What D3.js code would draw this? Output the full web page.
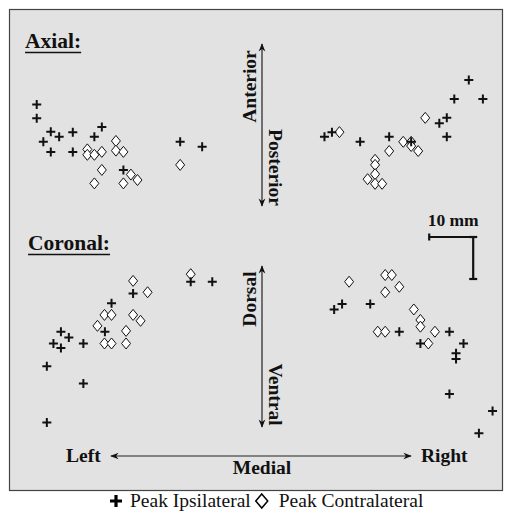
<!DOCTYPE html>
<html>
<head>
<meta charset="utf-8">
<script src="https://cdn.jsdelivr.net/npm/d3@7"></script>
<style>
  body { margin: 0; background: #fff; }
  svg { display: block; }
  text { font-family: "Liberation Serif", "Times New Roman", serif; fill: #111; }
</style>
</head>
<body>
<svg width="511" height="517"></svg>
<script>
// peak positions, mm from midline (x: +right, y: +anterior / +dorsal)
var axialIpsi = [
  [-51.2, 4.9], [-51.2, 1.6], [-48.0, -1.6], [-46.1, -2.8], [-49.7, -4.0], [-48.0, -6.4],
  [-43.0, -1.7], [-43.0, -6.4], [-36.4, -0.5], [-38.1, -2.8], [-31.5, -10.7], [-18.6, -4.0], [-13.6, -5.2],
  [14.2, -2.8], [15.9, -1.7], [22.3, -4.0], [28.9, -2.8], [33.9, -4.0], [40.3, 0.4],
  [42.0, 1.7], [42.0, -2.8], [43.7, 6.2], [47.0, 10.7], [50.2, 6.2]
];
var axialContra = [
  [-39.7, -5.8], [-39.7, -7.1], [-38.1, -7.1], [-36.4, -6.4], [-33.2, -3.8], [-33.2, -6.1],
  [-31.5, -6.4], [-36.4, -10.7], [-38.1, -13.9], [-31.5, -13.9], [-29.8, -11.8], [-28.3, -13.1], [-18.6, -9.5],
  [17.6, -1.7], [28.9, -6.2], [32.1, -4.0], [33.9, -4.0], [33.9, -5.0], [35.5, -6.2], [37.1, 1.7],
  [25.7, -8.3], [25.7, -9.5], [25.7, -11.7], [24.0, -12.9], [25.7, -14.0], [27.3, -14.0]
];
var coronalIpsi = [
  [-45.7, 3.4], [-43.9, 2.0], [-47.4, 0.6], [-45.7, -0.5], [-40.6, 0.6], [-48.9, -4.8],
  [-40.6, -8.9], [-48.9, -18.2], [-35.7, 3.4], [-34.2, 10.2], [-29.3, 12.5], [-16.2, 15.3], [-11.3, 15.3],
  [16.4, 8.7], [18.2, 10.0], [24.6, 10.0], [31.2, 3.4], [36.0, 0.6], [42.6, 3.4],
  [45.8, 0.6], [44.1, -1.7], [44.1, -3.1], [42.6, -11.4], [52.4, -15.5], [49.3, -20.8]
];
var coronalContra = [
  [-37.4, 4.8], [-35.8, 7.4], [-34.2, 7.4], [-35.8, 0.6], [-34.2, 0.6], [-30.9, 3.6],
  [-30.9, 0.6], [-29.3, 7.4], [-27.6, 6.0], [-29.3, 15.5], [-26.0, 12.8], [-16.2, 17.1],
  [19.8, 15.3], [28.0, 16.9], [29.5, 16.9], [31.2, 14.1], [28.0, 12.8], [34.5, 8.7],
  [36.0, 6.2], [36.0, 4.6], [39.3, 3.4], [26.3, 3.4], [28.0, 3.4], [37.8, 0.6]
];
var scaleBarMm = 10;
var legendLabels = ["Peak Ipsilateral", "Peak Contralateral"];

var svg = d3.select("svg");

// panel background
svg.append("rect")
  .attr("x", 9.5).attr("y", 9.5)
  .attr("width", 493).attr("height", 481)
  .attr("fill", "#e2e2e2")
  .attr("stroke", "#444").attr("stroke-width", 1.2);

// scales (mm -> px)
var x = d3.scaleLinear().domain([-10, 10]).range([218, 306]);
var yAx = d3.scaleLinear().domain([-10, 10]).range([167, 83]);
var yCor = d3.scaleLinear().domain([-10, 10]).range([388, 304]);

var defs = svg.append("defs");
defs.append("marker").attr("id", "arr")
  .attr("viewBox", "0 0 10 10").attr("refX", 9).attr("refY", 5)
  .attr("markerWidth", 7).attr("markerHeight", 7).attr("orient", "auto-start-reverse")
  .append("path").attr("d", "M0,1 L10,5 L0,9 L3,5 Z").attr("fill", "#111");

function arrow(x1, y1, x2, y2) {
  svg.append("line")
    .attr("x1", x1).attr("y1", y1).attr("x2", x2).attr("y2", y2)
    .attr("stroke", "#222").attr("stroke-width", 1.2)
    .attr("marker-start", "url(#arr)").attr("marker-end", "url(#arr)");
}

// titles
function title(txt, tx, ty) {
  var t = svg.append("text").attr("x", tx).attr("y", ty)
    .attr("font-size", 21.5).attr("font-weight", "bold").text(txt);
  var w = t.node().getComputedTextLength();
  svg.append("line").attr("x1", tx).attr("x2", tx + w)
    .attr("y1", ty + 4.5).attr("y2", ty + 4.5)
    .attr("stroke", "#111").attr("stroke-width", 1.6);
}
title("Axial:", 25, 48);
title("Coronal:", 28, 250);

// vertical direction arrows
arrow(x(0), 44, x(0), 206);
arrow(x(0), 266, x(0), 427);

function vlabel(txt, cx, cy, rot) {
  svg.append("text")
    .attr("transform", "translate(" + cx + "," + cy + ") rotate(" + rot + ")")
    .attr("text-anchor", "middle").attr("dy", "0.35em")
    .attr("font-size", 19.5).attr("font-weight", "bold").text(txt);
}
vlabel("Anterior", 249, 86.5, -90);
vlabel("Posterior", 275.5, 167.5, 90);
vlabel("Dorsal", 249, 299, -90);
vlabel("Ventral", 275.5, 394.5, 90);

// left / right / medial
arrow(111, 456, 411, 456);
svg.append("text").attr("x", 66).attr("y", 461.5)
  .attr("font-size", 19.5).attr("font-weight", "bold").text("Left");
svg.append("text").attr("x", 421).attr("y", 461.5)
  .attr("font-size", 19.5).attr("font-weight", "bold").text("Right");
svg.append("text").attr("x", x(0)).attr("y", 474).attr("text-anchor", "middle")
  .attr("font-size", 19.5).attr("font-weight", "bold").text("Medial");

// scale bar
var sbx1 = x(38), sbx2 = x(38 + scaleBarMm), sby = 237;
var sbLen = yAx(0) - yAx(scaleBarMm);
var sb = svg.append("g").attr("stroke", "#111").attr("stroke-width", 2.2);
sb.append("line").attr("x1", sbx1).attr("x2", sbx2).attr("y1", sby).attr("y2", sby);
sb.append("line").attr("x1", sbx1).attr("x2", sbx1).attr("y1", sby - 3.5).attr("y2", sby + 3.5);
sb.append("line").attr("x1", sbx2).attr("x2", sbx2).attr("y1", sby).attr("y2", sby + sbLen);
sb.append("line").attr("x1", sbx2 - 4).attr("x2", sbx2 + 4).attr("y1", sby).attr("y2", sby);
sb.append("line").attr("x1", sbx2 - 4).attr("x2", sbx2 + 4).attr("y1", sby + sbLen).attr("y2", sby + sbLen);
svg.append("text").attr("x", (sbx1 + sbx2) / 2 + 2).attr("y", 226).attr("text-anchor", "middle")
  .attr("font-size", 17.5).attr("font-weight", "bold").text(scaleBarMm + " mm");

// markers
var plusPath = "M-4.5,0 H4.5 M0,-4.5 V4.5";
var diamondPath = "M0,-5.5 L4.5,0 L0,5.5 L-4.5,0 Z";

function drawSet(data, ys, kind) {
  var g = svg.append("g");
  g.selectAll("path").data(data).enter().append("path")
    .attr("transform", function(d) { return "translate(" + x(d[0]) + "," + ys(d[1]) + ")"; })
    .attr("d", kind == "plus" ? plusPath : diamondPath)
    .attr("fill", kind == "plus" ? "none" : "#fff")
    .attr("stroke", "#111")
    .attr("stroke-width", kind == "plus" ? 2 : 1);
}
drawSet(axialContra, yAx, "diamond");
drawSet(axialIpsi, yAx, "plus");
drawSet(coronalContra, yCor, "diamond");
drawSet(coronalIpsi, yCor, "plus");

// legend
var lg = svg.append("g");
lg.append("path").attr("transform", "translate(116,501)")
  .attr("d", "M-6,0 H6 M0,-6 V6").attr("stroke", "#000").attr("stroke-width", 3.2);
var t1 = lg.append("text").attr("x", 130).attr("y", 507).attr("font-size", 19.5).text(legendLabels[0]);
var dx = 130 + t1.node().getComputedTextLength() + 11;
lg.append("path").attr("transform", "translate(" + dx + ",501)")
  .attr("d", "M0,-7 L6,0 L0,7 L-6,0 Z").attr("fill", "#fff").attr("stroke", "#000").attr("stroke-width", 1.5);
lg.append("text").attr("x", dx + 17).attr("y", 507).attr("font-size", 19.5).text(legendLabels[1]);
</script>
</body>
</html>
